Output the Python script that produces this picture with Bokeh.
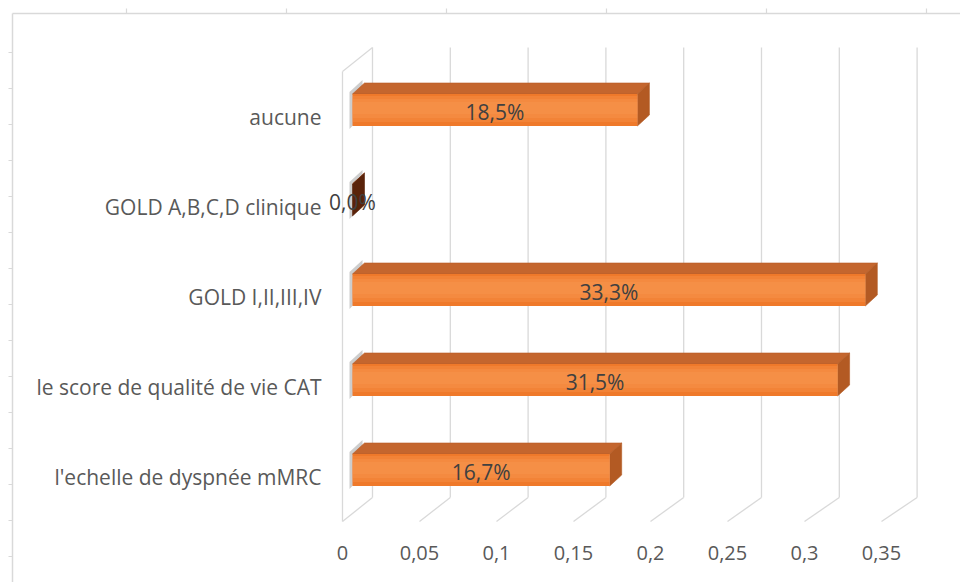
import numpy as np
from bokeh.plotting import figure
from bokeh.models import Range1d, ColumnDataSource
from bokeh.embed import file_html
from bokeh.resources import INLINE
from bokeh.core.properties import value

# ---- data -------------------------------------------------------------
categories = [
    "l'echelle de dyspnée mMRC",
    "le score de qualité de vie CAT",
    "GOLD I,II,III,IV",
    "GOLD A,B,C,D clinique",
    "aucune",
]
shares = [0.167, 0.315, 0.333, 0.0, 0.185]
share_labels = ["16,7%", "31,5%", "33,3%", "0,0%", "18,5%"]
x_ticks = [0, 0.05, 0.1, 0.15, 0.2, 0.25, 0.3, 0.35]
x_tick_labels = ["0", "0,05", "0,1", "0,15", "0,2", "0,25", "0,3", "0,35"]

# ---- layout of the pseudo-3D scene (pixels) -----------------------------
W, H = 960, 582
X0_PX = 342        # column of value 0 on the front edge of the floor
X_SCALE = 1540     # pixels per unit on the front plane
BACK_SCALE = 1556 / 1540
ROW0_PX = 476.5    # row (from top) of the first category
ROW_STEP = 90
PX = 1 / X_SCALE
PY = 1 / ROW_STEP

WALL_DX, WALL_DY = 30, 24          # depth of the floor / left wall
FLOOR_FRONT_ROW, WALL_TOP_ROW = 521, 47
BAR_SHIFT = 10                     # bar front plane behind the floor front edge
BAR_HALF = 16                      # half height of a bar's front face
BAR_DX, BAR_DY = 12, 11            # bar depth
BAR_RAISE = 7                      # bar centre above the category label


def col(px):
    return (px - X0_PX) * PX


def row(r):
    return (ROW0_PX - r) * PY


p = figure(
    width=W, height=H,
    x_range=Range1d(col(0), col(W)),
    y_range=Range1d(row(H), row(0)),
    output_backend="svg", toolbar_location=None,
    x_axis_location=None, y_axis_location=None,
    min_border=0, outline_line_color=None,
    background_fill_color="white", border_fill_color="white",
)
p.grid.visible = False

frame_color = "#d9d9d9"
grid_color = "#d9d9d9"

# ---- outer frame ------------------------------------------------------
p.segment(x0=[col(12), col(12)], y0=[row(13), row(13)],
          x1=[col(W), col(12)], y1=[row(13), row(H)],
          line_color=frame_color, line_width=1.5)
top_ticks = np.arange(126, W, 160)
p.segment(x0=[col(c) for c in top_ticks], y0=row(13),
          x1=[col(c) for c in top_ticks], y1=row(8),
          line_color=frame_color, line_width=1.2)
left_ticks = np.arange(52, H, 36)
p.segment(x0=col(12), y0=[row(r) for r in left_ticks],
          x1=col(8), y1=[row(r) for r in left_ticks],
          line_color=frame_color, line_width=1.2)

# ---- walls and floor --------------------------------------------------
ticks = np.array(x_ticks)
back_x = ticks * BACK_SCALE + WALL_DX * PX
y_floor_front = row(FLOOR_FRONT_ROW)
y_floor_back = row(FLOOR_FRONT_ROW - WALL_DY)
y_wall_top = row(WALL_TOP_ROW)

# back wall verticals
p.segment(x0=back_x, y0=y_floor_back, x1=back_x, y1=y_wall_top,
          line_color=grid_color, line_width=1.3)
# floor diagonals
p.segment(x0=ticks, y0=y_floor_front, x1=back_x, y1=y_floor_back,
          line_color=grid_color, line_width=1.3)
# left wall front edge and top edge
p.segment(x0=[0, 0], y0=[y_floor_front, row(WALL_TOP_ROW + WALL_DY)],
          x1=[0, back_x[0]], y1=[row(WALL_TOP_ROW + WALL_DY), y_wall_top],
          line_color=grid_color, line_width=1.3)

# ---- bars -------------------------------------------------------------
vals = np.array(shares)
idx = np.arange(len(categories))
centre = idx + BAR_RAISE * PY
left = np.full(len(vals), BAR_SHIFT * PX)
right = vals + BAR_SHIFT * PX
top = centre + BAR_HALF * PY
bottom = centre - BAR_HALF * PY
ddx, ddy = BAR_DX * PX, BAR_DY * PY

# soft shadow at the left end
p.patches(
    xs=[[l - 3 * PX, l - 3 * PX, l + ddx - 2 * PX, l + ddx - 2 * PX] for l in left],
    ys=[[b - 3 * PY, t + 2 * PY, t + ddy + 3 * PY, b + ddy] for b, t in zip(bottom, top)],
    fill_color="#6f6f6f", fill_alpha=0.35, line_color=None,
)

# top faces
p.patches(
    xs=[[l, r, r + ddx, l + ddx] for l, r in zip(left, right)],
    ys=[[t, t, t + ddy, t + ddy] for t in top],
    fill_color="#c4662e", line_color="#b85c26", line_width=0.6,
)
# right side faces
side_colors = ["#b35a23" if v > 0 else "#5a230a" for v in vals]
p.patches(
    xs=[[r, r, r + ddx, r + ddx] for r in right],
    ys=[[b, t, t + ddy, b + ddy] for b, t in zip(bottom, top)],
    fill_color=side_colors, line_color=side_colors, line_width=0.6,
)

# front faces: base fill, then nested translucent bands for a soft sheen
p.quad(left=left, right=right, top=top, bottom=bottom,
       fill_color="#ef792a", line_color=None)
for inset_top, inset_bottom in [(2, 4), (5, 8), (8, 12)]:
    p.quad(left=left, right=right,
           top=top - inset_top * PY, bottom=bottom + inset_bottom * PY,
           fill_color="#f89a55", fill_alpha=0.3, line_color=None)

# ---- texts ------------------------------------------------------------
font = value("Open Sans")
src = ColumnDataSource(dict(
    cat=categories, y=idx, lab=share_labels,
    lx=(left + right) / 2, ly=centre - 2 * PY,
))
p.text(x=col(321), y="y", text="cat", source=src,
       text_font=font, text_font_size="21px", text_color="#595959",
       text_align="right", text_baseline="middle")
p.text(x="lx", y="ly", text="lab", source=src,
       text_font=font, text_font_size="21px", text_color="#404040",
       text_align="center", text_baseline="middle")
p.text(x=x_ticks, y=row(552), text=x_tick_labels,
       text_font=font, text_font_size="20px", text_color="#595959",
       text_align="center", text_baseline="middle")

open("out.html", "w").write(file_html(p, INLINE))
